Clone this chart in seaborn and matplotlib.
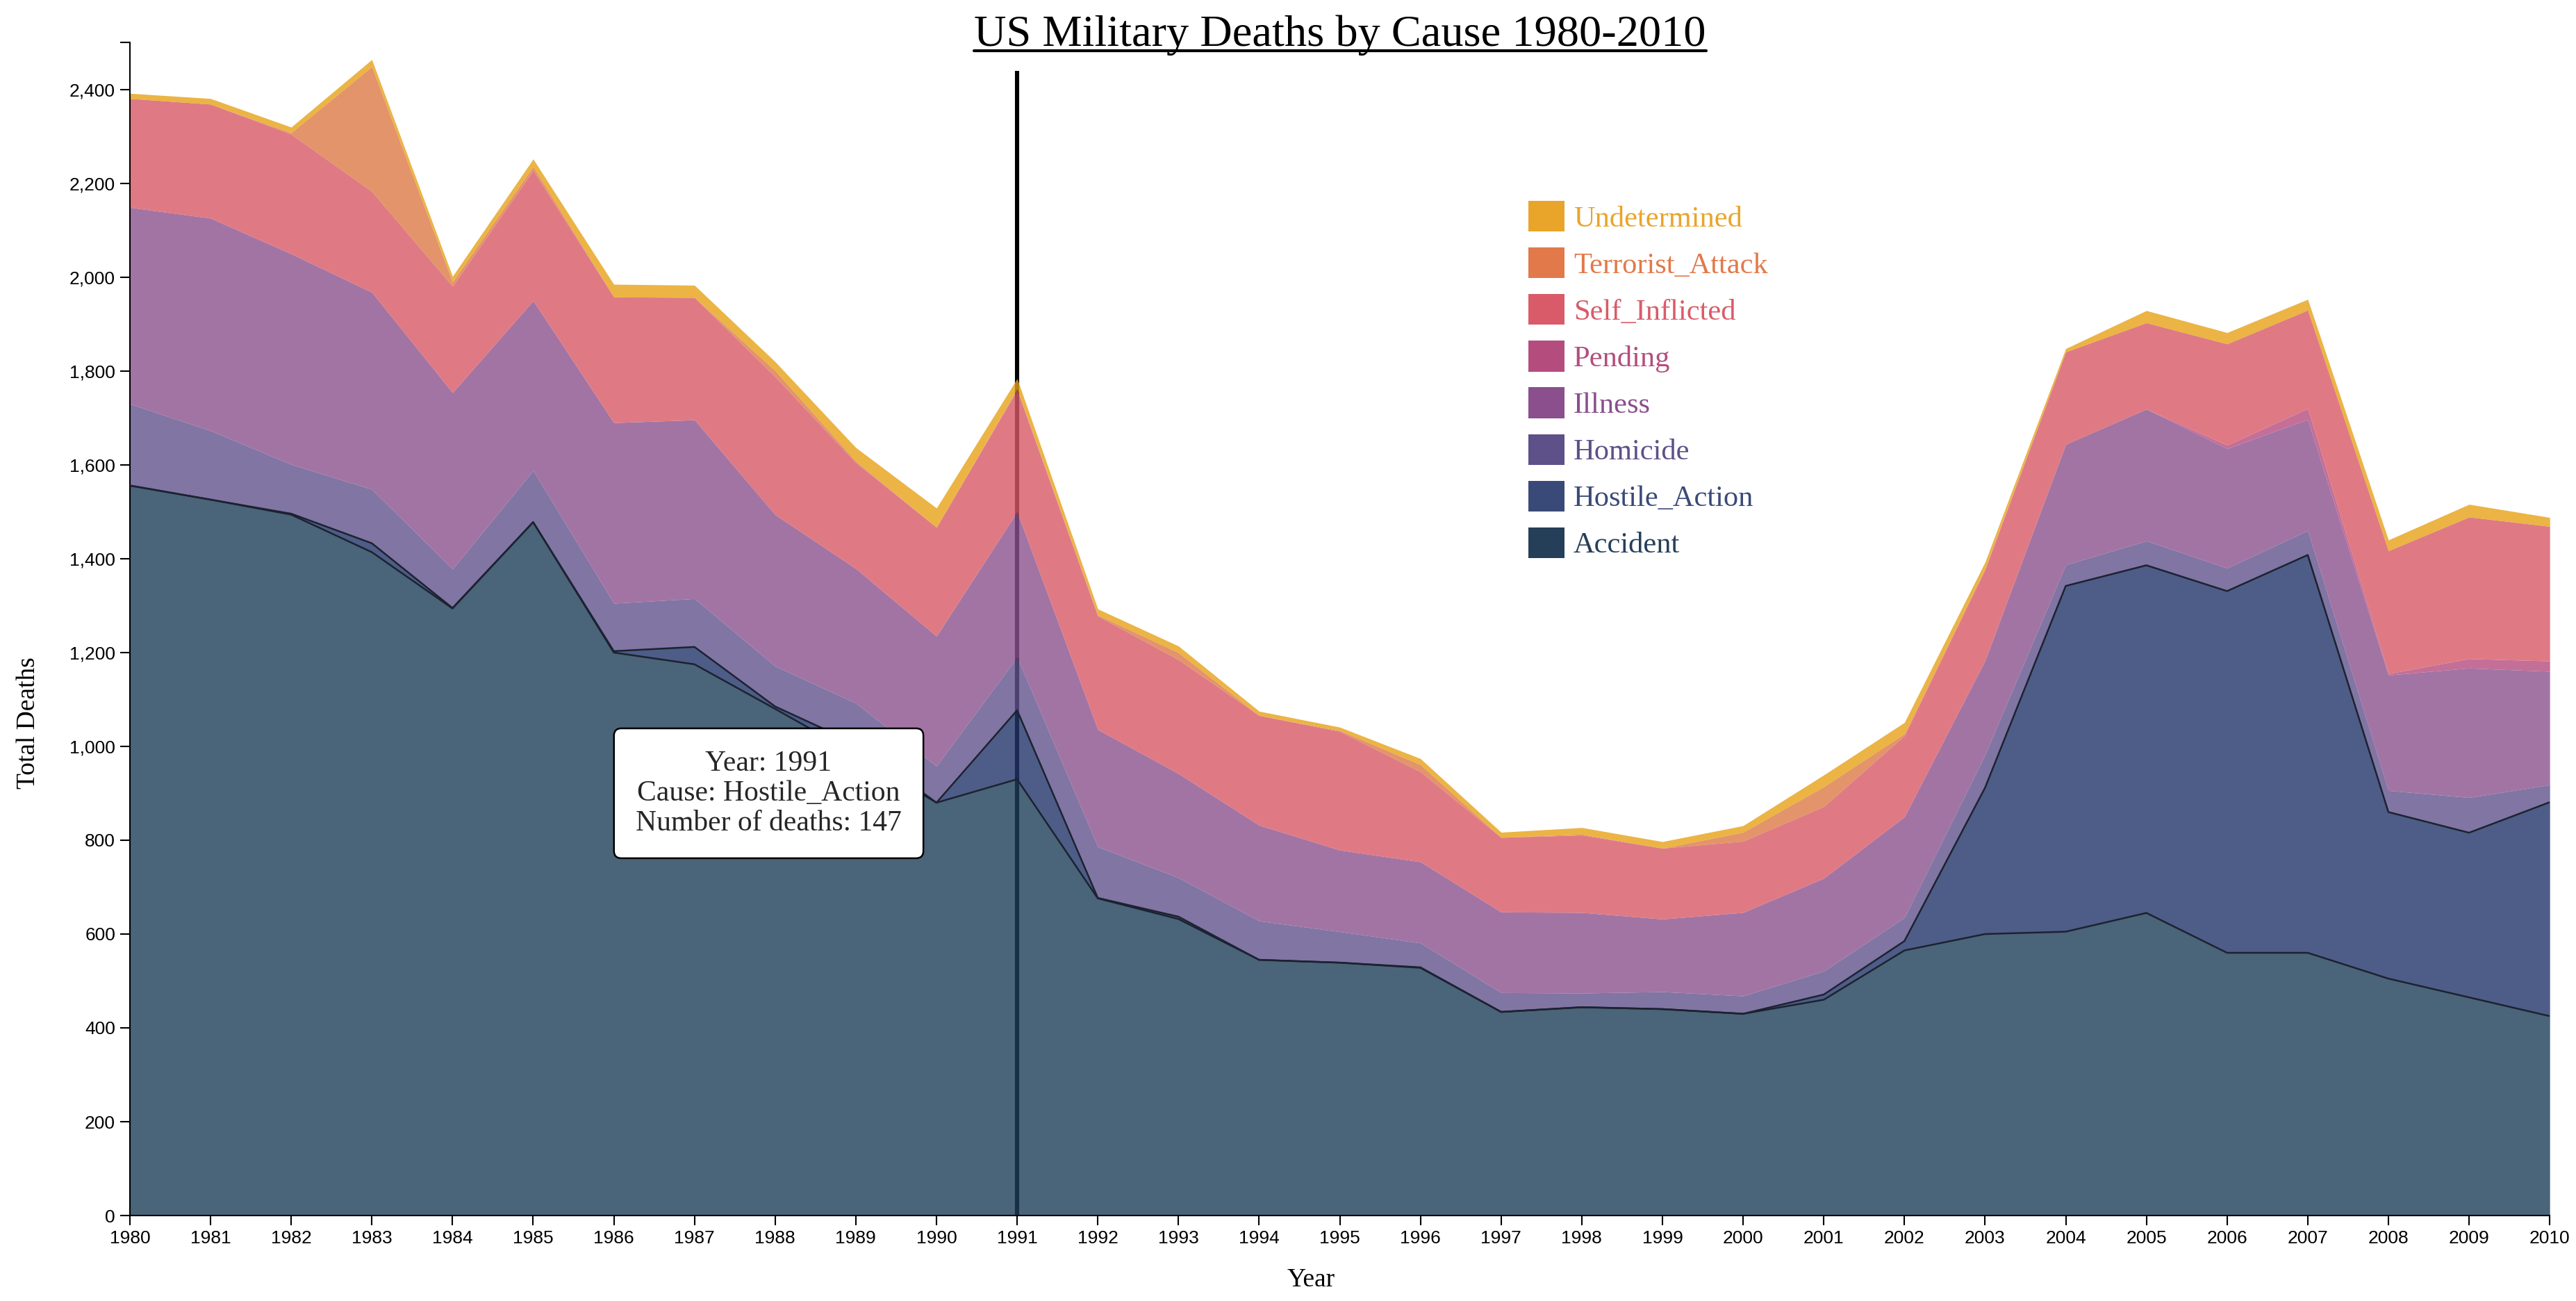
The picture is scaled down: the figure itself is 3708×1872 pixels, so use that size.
import matplotlib
matplotlib.use("Agg")
import numpy as np
import pandas as pd
import matplotlib.pyplot as plt
import seaborn as sns
from matplotlib.patches import Patch
from matplotlib.lines import Line2D
from matplotlib.ticker import FuncFormatter

# data, deaths per year by cause
years = list(range(1980, 2011))
accident = [1556, 1526, 1494, 1414, 1294, 1478, 1200, 1175, 1080, 983, 880, 930, 676, 632, 545, 539,
            528, 434, 444, 440, 430, 460, 565, 600, 605, 645, 560, 560, 505, 465, 425]
hostile_action = [0, 0, 2, 19, 1, 0, 3, 37, 5, 23, 0, 147, 1, 5, 0, 0,
                  1, 0, 0, 0, 0, 11, 20, 312, 737, 741, 771, 848, 355, 351, 456]
homicide = [174, 147, 105, 115, 83, 110, 102, 103, 86, 86, 78, 113, 109, 83, 83, 66,
            52, 41, 30, 37, 38, 50, 50, 70, 45, 52, 49, 52, 46, 75, 37]
illness = [419, 453, 449, 420, 376, 362, 385, 381, 323, 287, 277, 310, 250, 222, 204, 174,
           173, 172, 172, 155, 178, 198, 215, 201, 257, 281, 255, 237, 246, 276, 242]
pending = [0, 0, 0, 0, 0, 0, 0, 0, 0, 0, 0, 0, 0, 0, 0, 0,
           0, 0, 0, 0, 0, 0, 0, 0, 0, 0, 7, 23, 3, 20, 22]
self_inflicted = [232, 243, 255, 215, 227, 278, 268, 261, 294, 226, 232, 260, 242, 243, 234, 253,
                  192, 159, 165, 151, 152, 153, 173, 194, 197, 184, 216, 210, 262, 302, 287]
terrorist_attack = [0, 0, 3, 266, 9, 8, 0, 0, 13, 3, 0, 2, 2, 15, 0, 2,
                    15, 0, 2, 0, 19, 42, 4, 3, 0, 0, 0, 0, 0, 0, 0]
undetermined = [11, 12, 12, 15, 12, 16, 27, 26, 19, 29, 41, 22, 13, 14, 9, 7,
                13, 11, 14, 14, 14, 25, 24, 13, 7, 26, 24, 23, 23, 27, 19]

causes = ["Accident", "Hostile_Action", "Homicide", "Illness", "Pending",
          "Self_Inflicted", "Terrorist_Attack", "Undetermined"]
# solid colours for the legend, fill colours for the translucent areas
legend_colors = ["#253f59", "#3a4a78", "#5e5089", "#8a4f8c", "#b44d7e",
                 "#d95b69", "#e2794a", "#e9a52a"]
fill_colors = ["#1d3d58", "#223469", "#60528c", "#8b518e", "#b54b7f",
               "#d85965", "#dc7a45", "#e6a115"]

df = pd.DataFrame({
    "Accident": accident, "Hostile_Action": hostile_action, "Homicide": homicide,
    "Illness": illness, "Pending": pending, "Self_Inflicted": self_inflicted,
    "Terrorist_Attack": terrorist_attack, "Undetermined": undetermined,
}, index=years)

sns.set_theme(style="ticks")
plt.rcParams["font.family"] = ["Liberation Sans", "DejaVu Sans"]
serif = ["Liberation Serif", "DejaVu Serif"]

fig = plt.figure(figsize=(18.54, 9.36), dpi=200)
ax = fig.add_axes([0.0504, 0.0657, 0.9394, 0.9015])

# hover line at 1991 sits under the translucent areas
ax.vlines(1991, 0, 2440, color="black", lw=2.2, zorder=1)

ax.stackplot(df.index, *[df[c] for c in causes], colors=fill_colors, alpha=0.8, lw=0, zorder=2)

cum = df[causes].cumsum(axis=1)
sns.lineplot(x=df.index, y=cum["Accident"], color="#1c2230", lw=0.9, ax=ax, zorder=3)
sns.lineplot(x=df.index, y=cum["Hostile_Action"], color="#1c2230", lw=0.9, ax=ax, zorder=3)

ax.set_xlim(1980, 2010)
ax.set_ylim(0, 2500)
ax.set_xticks(years)
ax.set_yticks(range(0, 2401, 200))
ax.set_yticks([2500], minor=True)
ax.yaxis.set_major_formatter(FuncFormatter(lambda v, p: f"{v:,.0f}"))
ax.tick_params(axis="both", which="both", length=5, width=0.75, color="black",
               labelsize=9.5, labelcolor="black", pad=2.5)
sns.despine(ax=ax)
for s in ["left", "bottom"]:
    ax.spines[s].set_color("black")
    ax.spines[s].set_linewidth(0.75)
ax.grid(False)
ax.set_facecolor("white")

ax.set_xlabel("Year", family=serif, fontsize=13.5, color="black", va="center")
ax.set_ylabel("Total Deaths", family=serif, fontsize=13.5, color="black", va="center")
ax.xaxis.set_label_coords(0.488, -0.055)
ax.yaxis.set_label_coords(-0.042, 0.42)

# legend, top entry first
handles = [Patch(facecolor=c, edgecolor="none") for c in legend_colors[::-1]]
leg = ax.legend(handles, causes[::-1], loc="upper left", bbox_to_anchor=(0.578, 0.865),
                frameon=False, prop={"family": serif, "size": 15.3}, handlelength=1.22,
                handleheight=1.22, handletextpad=0.3, labelspacing=0.51,
                borderpad=0, borderaxespad=0)
for txt, c in zip(leg.get_texts(), legend_colors[::-1]):
    txt.set_color(c)

# tooltip
ax.text(0.264, 0.36, "Year: 1991\nCause: Hostile_Action\nNumber of deaths: 147",
        transform=ax.transAxes, ha="center", va="center", family=serif, fontsize=15,
        linespacing=1.15, zorder=5,
        bbox=dict(boxstyle="round,pad=0.75,rounding_size=0.25", fc="white", ec="black", lw=0.9))

title = fig.text(0.5202, 0.9647, "US Military Deaths by Cause 1980-2010", ha="center",
                 va="baseline", family=serif, fontsize=23.2, color="black")
fig.canvas.draw()
bb = title.get_window_extent().transformed(fig.transFigure.inverted())
fig.add_artist(Line2D([bb.x0, bb.x1], [0.9612, 0.9612], transform=fig.transFigure,
                      color="black", lw=1.5))

fig.savefig("out.png", dpi=200, facecolor="white")
